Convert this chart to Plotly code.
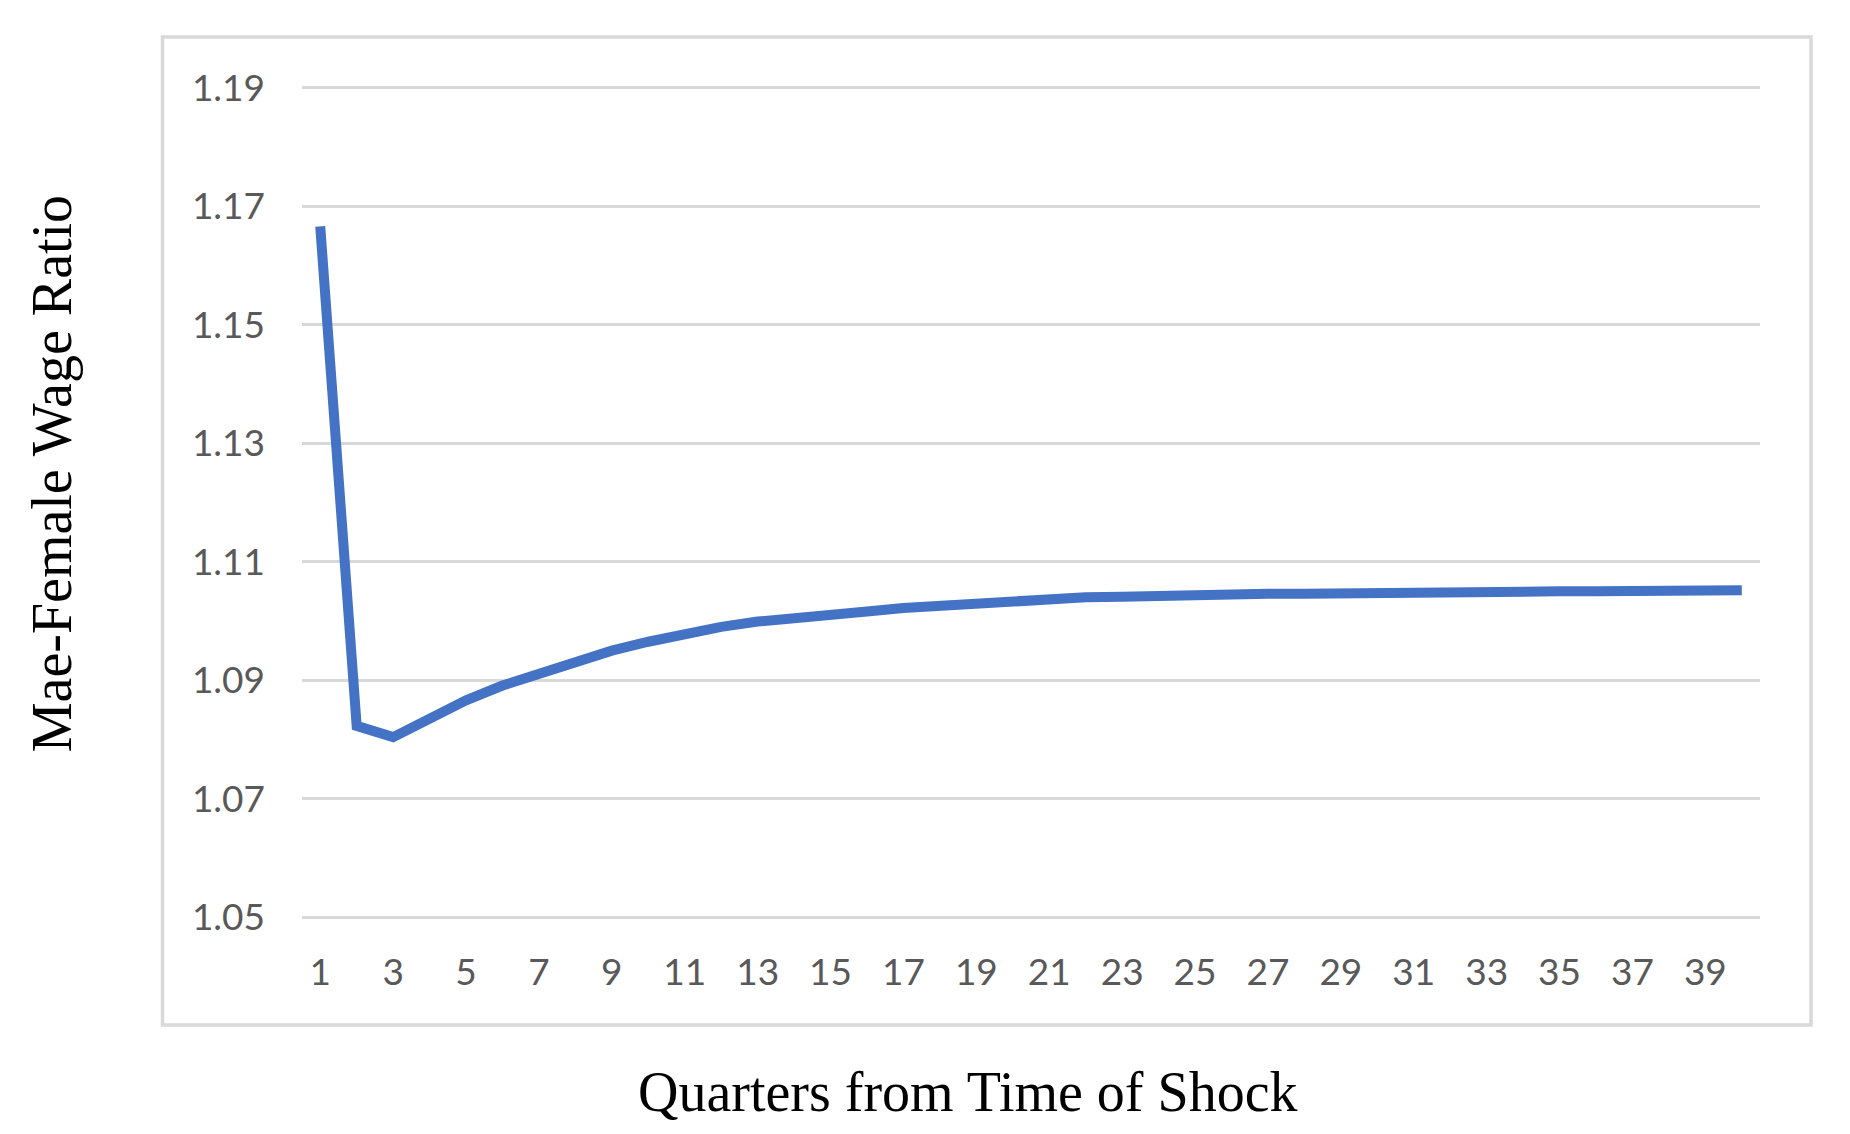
import plotly.graph_objects as go

# Quarters after the shock and the male-female wage ratio
quarters = list(range(1, 41))
wage_ratio = [1.1666, 1.0823, 1.0804, 1.0835, 1.0866, 1.0891, 1.0912, 1.0932,
              1.0950, 1.0965, 1.0978, 1.0990, 1.0999, 1.1006, 1.1011, 1.1016,
              1.1022, 1.1026, 1.1030, 1.1034, 1.1037, 1.1040, 1.1041, 1.1043,
              1.1044, 1.1045, 1.1046, 1.1046, 1.1047, 1.1048, 1.1050, 1.1050,
              1.1050, 1.1050, 1.1050, 1.1050, 1.1051, 1.1052, 1.1052, 1.1052]

x_ticks = list(range(1, 40, 2))
y_ticks = [1.05, 1.07, 1.09, 1.11, 1.13, 1.15, 1.17, 1.19]
y_tick_labels = ["1.05", "1.07", "1.09", "1.11", "1.13", "1.15", "1.17", "1.19"]

x_title = "Quarters from Time of Shock"
y_title = "Mae-Female Wage Ratio"

# the page body adds an 8px margin, so work in page pixels minus 8
OFF = 8
W, H = 1850 - OFF, 1134 - OFF
L, R, T, B = 302 - OFF, 1760 - OFF, 85.5 - OFF, 919 - OFF  # plot area


def px_x(v):
    return (v - OFF - L) / (R - L)


def px_y(v):
    return (B - (v - OFF)) / (B - T)


fig = go.Figure()
fig.add_trace(go.Scatter(
    x=quarters, y=wage_ratio, mode="lines",
    line=dict(color="#4472C4", width=10),
    hoverinfo="x+y", showlegend=False,
))

tick_font = dict(family="Lato, Open Sans, sans-serif", size=37, color="#595959")
title_font = dict(family="Liberation Serif, Times New Roman, serif", size=56, color="black")

fig.update_layout(
    width=W, height=H, autosize=False,
    margin=dict(l=L, r=W - R, t=T, b=H - B, pad=0),
    paper_bgcolor="white", plot_bgcolor="white",
    xaxis=dict(
        range=[0.5, 40.5], tickmode="array", tickvals=x_ticks,
        showgrid=False, zeroline=False, showline=False, ticks="",
        tickfont=tick_font, ticklabelstandoff=28,
    ),
    yaxis=dict(
        range=[1.0497, 1.1903], tickmode="array", tickvals=y_ticks,
        ticktext=y_tick_labels, showgrid=True, gridcolor="#D9D9D9",
        gridwidth=3, zeroline=False, showline=False, ticks="",
        tickfont=tick_font, ticklabelstandoff=36,
    ),
    shapes=[dict(
        type="rect", xref="paper", yref="paper",
        x0=px_x(162.5), x1=px_x(1811), y0=px_y(1025), y1=px_y(36.5),
        line=dict(color="#D9D9D9", width=3.5), layer="below",
    )],
    annotations=[
        dict(text=x_title, xref="paper", yref="paper",
             x=px_x(968), y=px_y(1092), xanchor="center", yanchor="middle",
             showarrow=False, font=title_font),
        dict(text=y_title, xref="paper", yref="paper", textangle=-90,
             x=px_x(52), y=px_y(474), xanchor="center", yanchor="middle",
             showarrow=False, font=title_font),
    ],
)

fig.write_html("out.html")
